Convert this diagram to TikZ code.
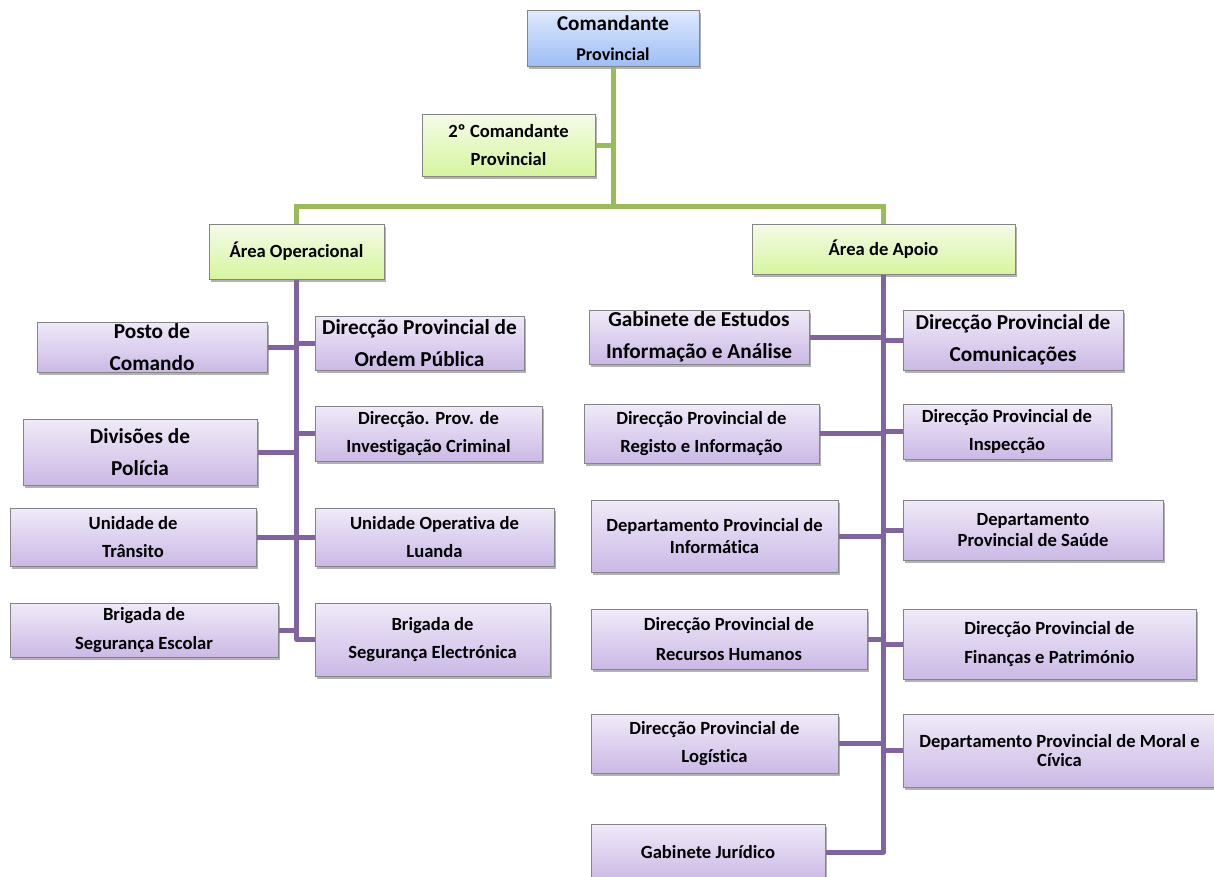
\documentclass[tikz,border=0pt]{standalone}
\usepackage{fontspec}
\setmainfont{Carlito}[Ligatures=NoCommon]
\usetikzlibrary{shadows}
\definecolor{pTop}{HTML}{F0EAF8}
\definecolor{pBot}{HTML}{CBB9E6}
\definecolor{gTop}{HTML}{F5FBE8}
\definecolor{gBot}{HTML}{D6F59E}
\definecolor{bTop}{HTML}{DFEAFD}
\definecolor{bBot}{HTML}{9DBEF5}
\definecolor{edge}{HTML}{858585}
\definecolor{gline}{HTML}{9BBB59}
\definecolor{pline}{HTML}{8064A2}
\newcommand{\fbig}{\fontsize{21.3}{32}\selectfont}
\newcommand{\fmed}{\fontsize{18.6}{28.5}\selectfont}
\begin{document}
\begin{tikzpicture}[x=1pt,y=-1pt,
  box/.style={draw=edge, line width=1pt, inner sep=0pt, align=center,
    font=\bfseries\fmed,
    drop shadow={shadow xshift=2pt,shadow yshift=-3pt,opacity=0.3,fill=black}},
  pbox/.style={box, top color=pTop, bottom color=pBot},
  gbox/.style={box, top color=gTop, bottom color=gBot},
  bbox/.style={box, top color=bTop, bottom color=bBot},
  sz/.style 2 args={minimum width=#1pt, minimum height=#2pt},
  gl/.style={draw=gline, line width=5pt},
  pl/.style={draw=pline, line width=5pt, line join=round}]
\useasboundingbox (0,0) rectangle (1214,876);

% top
\node[bbox, sz={172}{56}] (cmd) at (613,38) {{\fontsize{21.1}{24}\selectfont Comandante}\\[2pt]{\fontsize{18}{20}\selectfont Provincial}};
\node[gbox, sz={173}{62}] (seg) at (508.5,145) {2º Comandante\\Provincial};
\node[gbox, sz={175}{55}] (aop) at (296.5,251.5) {Área Operacional};
\node[gbox, sz={263}{50}] (apo) at (883.5,249) {Área de Apoio};

% left column
\node[pbox, sz={230}{50}, font=\bfseries\fbig] (posto) at (152,347) {Posto de\\Comando};
\node[pbox, sz={209}{54}, font=\bfseries\fbig] (ordem) at (419.5,343) {Direcção Provincial de\\Ordem Pública};
\node[pbox, sz={234}{66}, font=\bfseries\fbig] (divis) at (140,452) {Divisões de\\Polícia};
\node[pbox, sz={227}{55}] (invest) at (428.5,433.5) {Direcção. Prov. de\\Investigação Criminal};
\node[pbox, sz={246}{58}] (trans) at (133,537) {Unidade de\\Trânsito};
\node[pbox, sz={239}{58}] (luanda) at (434.5,537) {Unidade Operativa de\\Luanda};
\node[pbox, sz={268}{54}] (escolar) at (144,630) {Brigada de\\Segurança Escolar};
\node[pbox, sz={235}{73}] (electr) at (432.5,639.5) {Brigada de\\Segurança Electrónica};

% right column
\node[pbox, sz={220}{54}, font=\bfseries\fbig] (gab) at (699,337) {Gabinete de Estudos\\Informação e Análise};
\node[pbox, sz={220}{60}, font=\bfseries\fbig] (comun) at (1013,340) {Direcção Provincial de\\Comunicações};
\node[pbox, sz={235}{59}] (regist) at (701.5,433.5) {Direcção Provincial de\\Registo e Informação};
\node[pbox, sz={208}{55}] (insp) at (1007,431.5) {Direcção Provincial de\\Inspecção};
\node[pbox, sz={247}{72}, font=\bfseries\fontsize{18.6}{22}\selectfont] (inform) at (714.5,536) {Departamento Provincial de\\Informática};
\node[pbox, sz={260}{60}, font=\bfseries\fontsize{18.6}{21}\selectfont] (saude) at (1033,530) {Departamento\\Provincial de Saúde};
\node[pbox, sz={276}{60}, font=\bfseries\fontsize{18.6}{30}\selectfont] (recur) at (729,639) {Direcção Provincial de\\Recursos Humanos};
\node[pbox, sz={293}{70}] (finan) at (1049.5,644) {Direcção Provincial de\\Finanças e Património};
\node[pbox, sz={247}{59}] (logis) at (714.5,743.5) {Direcção Provincial de\\Logística};
\node[pbox, sz={313}{73}, font=\bfseries\fontsize{18.6}{19}\selectfont] (moral) at (1059.5,750.5) {Departamento Provincial de Moral e\\Cívica};
\node[pbox, sz={234}{56}] (jur) at (708,852) {Gabinete Jurídico};

% green connectors
\coordinate (j) at (613,206);
\draw[gl] (cmd.south) -- (j);
\draw[gl] (seg.east) -- (seg.east -| cmd.south);
\draw[gl] (aop.north) |- (j) -| (apo.north);

% purple connectors left
\draw[pl] (aop.south) -- (aop.south |- electr.west) -- (electr.west);
\foreach \n in {posto,divis,trans,escolar} \draw[pl] (\n.east) -- (\n.east -| aop.south);
\foreach \n in {ordem,invest,luanda} \draw[pl] (\n.west) -- (\n.west -| aop.south);

% purple connectors right
\draw[pl] (apo.south) -- (apo.south |- jur.east) -- (jur.east);
\foreach \n in {gab,regist,inform,recur,logis} \draw[pl] (\n.east) -- (\n.east -| apo.south);
\foreach \n in {comun,insp,saude,finan,moral} \draw[pl] (\n.west) -- (\n.west -| apo.south);
\end{tikzpicture}
\end{document}
